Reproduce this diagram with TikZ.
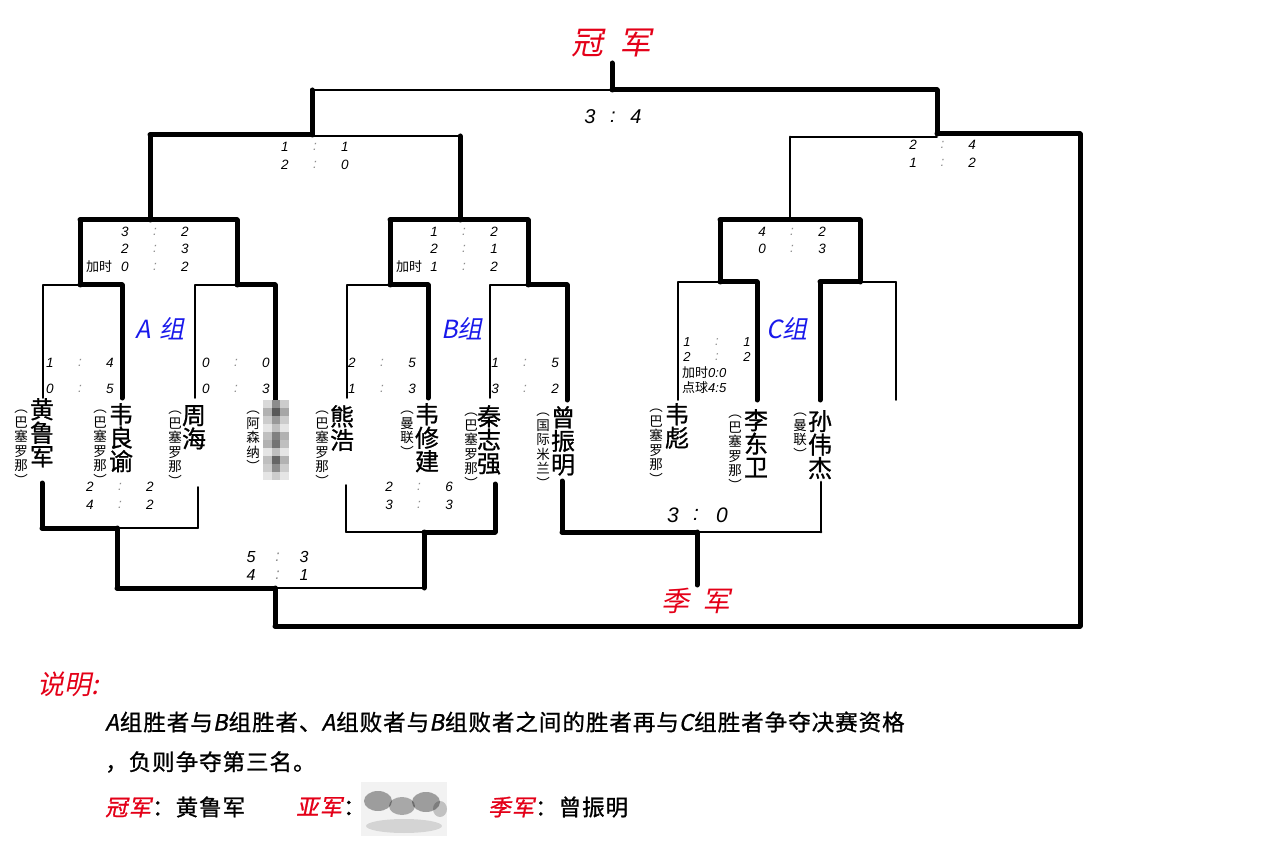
\documentclass[tikz,border=0pt]{standalone}
\usepackage{fontspec}
\setmainfont{Noto Sans CJK SC}[ItalicFont=Noto Sans CJK SC, ItalicFeatures={FakeSlant=0.2}]
\newfontfamily\arialf{Liberation Sans}
\newfontfamily\namef{Noto Sans CJK SC}[FakeBold=1.0]
\newfontfamily\legf{Noto Sans CJK SC}[LetterSpace=4.4, FakeBold=1.0, ItalicFont=Noto Sans CJK SC, ItalicFeatures={FakeSlant=0.2,LetterSpace=4.4,FakeBold=1.0}]
\definecolor{cred}{RGB}{228,0,24}
\definecolor{cblue}{RGB}{25,25,235}
\newcommand\srow[7]{%
  \node[sc,font=\fontsize{#6}{#6}\arialf\itshape] (#1a) at (#2,#3) {#4};
  \node[sc,font=\fontsize{#6}{#6}\arialf\itshape,text=black!45] (#1c) at ({#2+#7},#3) {:};
  \node[sc,font=\fontsize{#6}{#6}\arialf\itshape] (#1b) at ({#2+2*#7},#3) {#5};}
\begin{document}
\begin{tikzpicture}[x=1pt,y=-1pt,line cap=round,line join=round,
  thk/.style={line width=5pt}, thn/.style={line width=1.8pt}, mdl/.style={line width=2.8pt},
  sc/.style={inner sep=0pt},
  big/.style={font=\fontsize{24}{23.5}\namef,align=center,inner sep=0pt,anchor=north},
  aff/.style={font=\fontsize{13.5}{14.5}\selectfont,align=center,inner sep=0pt,anchor=north},
  grp/.style={font=\fontsize{25}{25}\selectfont\itshape,text=cblue,inner sep=0pt},
  ttl/.style={text=cred,inner sep=0pt}]
\fill[white] (0,0) rectangle (1275,850);
\useasboundingbox (0,0) rectangle (1275,850);

% ---- top / final
\draw[thk] (612,63) -- (612,90);
\draw[thn] (312,90) -- (612,90);
\draw[thk] (612,90) -- (937,90);
\draw[thk] (312,90) -- (312,135);
\draw[thk] (937,90) -- (937,134);
% ---- left semi
\draw[thk] (150,135) -- (312,135);
\draw[thn] (312,136) -- (460,136);
\draw[thk] (150,135) -- (150,220);
\draw[thk] (460,136) -- (460,220);
% ---- A group
\draw[thk] (80,220) -- (237,220);
\draw[thk] (80,220) -- (80,285);
\draw[thk] (237,220) -- (237,285);
\draw[thn] (43,285) -- (80,285);
\draw[thk] (80,285) -- (122,285);
\draw[thn] (195,285) -- (237,285);
\draw[thk] (237,285) -- (275,285);
\draw[thn] (43,285) -- (43,398);
\draw[thk] (122,285) -- (122,398);
\draw[thn] (195,285) -- (195,398);
\draw[thk] (275,285) -- (275,400);
% ---- B group
\draw[thk] (390,220) -- (528,220);
\draw[thk] (390,220) -- (390,285);
\draw[thk] (528,220) -- (528,285);
\draw[thn] (347,285) -- (390,285);
\draw[thk] (390,285) -- (428,285);
\draw[thn] (490,285) -- (528,285);
\draw[thk] (528,285) -- (567,285);
\draw[thn] (347,285) -- (347,398);
\draw[thk] (428,285) -- (428,398);
\draw[thn] (490,285) -- (490,398);
\draw[thk] (567,285) -- (567,400);
% ---- right semi and C group
\draw[thk] (937,134) -- (1080,134);
\draw[thn] (790,137) -- (937,137);
\draw[mdl] (790,137) -- (790,220);
\draw[thk] (720,220) -- (860,220);
\draw[thk] (720,220) -- (720,282);
\draw[thk] (860,220) -- (860,282);
\draw[thn] (678,282) -- (720,282);
\draw[thk] (720,282) -- (757,282);
\draw[thk] (820,282) -- (860,282);
\draw[thn] (860,282) -- (896,282);
\draw[thn] (678,282) -- (678,400);
\draw[thk] (757,282) -- (757,400);
\draw[thk] (820,282) -- (820,400);
\draw[thn] (896,282) -- (896,400);
\draw[thk] (1080,134) -- (1080,626);
% ---- losers bracket
\draw[thk] (42,483) -- (42,528);
\draw[thk] (42,528) -- (117,528);
\draw[thn] (117,528) -- (198,528);
\draw[thn] (198,487) -- (198,528);
\draw[thk] (117,528) -- (117,588);
\draw[thk] (117,588) -- (275,588);
\draw[thn] (275,588) -- (424,588);
\draw[thk] (424,532) -- (424,588);
\draw[thn] (346,532) -- (424,532);
\draw[thk] (424,532) -- (495,532);
\draw[thn] (346,485) -- (346,532);
\draw[thk] (495,484) -- (495,532);
\draw[thk] (275,588) -- (275,626);
\draw[thk] (275,626) -- (1080,626);
% ---- third place
\draw[thk] (562,481) -- (562,532);
\draw[thk] (562,532) -- (697,532);
\draw[mdl] (697,532) -- (821,532);
\draw[mdl] (821,482) -- (821,532);
\draw[thk] (697,532) -- (697,585);

% ---- titles
\node[ttl,font=\fontsize{32}{32}\selectfont\itshape] (champ) at (611,43) {冠\hspace{16pt}军};
\node[ttl,font=\fontsize{28}{28}\selectfont\itshape] (third) at (696,601) {季\hspace{13pt}军};
\node[grp] (ga) at (160,329) {A\hspace{8pt}组};
\node[grp] (gb) at (462,329) {B组};
\node[grp] (gc) at (787,329) {C组};

% ---- big scores
\node[sc,font=\fontsize{20}{20}\arialf\itshape] (f1) at (590,117) {3};
\node[sc,font=\fontsize{20}{20}\arialf\itshape] (f2) at (613,117) {:};
\node[sc,font=\fontsize{20}{20}\arialf\itshape] (f3) at (636,117) {4};
\node[sc,font=\fontsize{21}{21}\arialf\itshape] (t1) at (673,515) {3};
\node[sc,font=\fontsize{21}{21}\arialf\itshape] (t2) at (696,515) {:};
\node[sc,font=\fontsize{21}{21}\arialf\itshape] (t3) at (722,515) {0};

% ---- small scores
\srow{sa}{285}{147}{1}{1}{13.5}{30}
\srow{sb}{285}{165}{2}{0}{13.5}{30}
\srow{aa}{125}{232}{3}{2}{13.5}{30}
\srow{ab}{125}{249}{2}{3}{13.5}{30}
\srow{ac}{125}{267}{0}{2}{13.5}{30}
\node[sc,font=\fontsize{13}{13}\selectfont] (aot) at (99,267) {加时};
\srow{ba}{434}{232}{1}{2}{13.5}{30}
\srow{bb}{434}{249}{2}{1}{13.5}{30}
\srow{bc}{434}{267}{1}{2}{13.5}{30}
\node[sc,font=\fontsize{13}{13}\selectfont] (bot) at (409,267) {加时};
\srow{ra}{913}{145}{2}{4}{13.5}{29.5}
\srow{rb}{913}{163}{1}{2}{13.5}{29.5}
\srow{ca}{762}{232}{4}{2}{13.5}{30}
\srow{cb}{762}{249}{0}{3}{13.5}{30}
\srow{ara}{50}{363}{1}{4}{13.5}{30}
\srow{arb}{50}{389}{0}{5}{13.5}{30}
\srow{arc}{206}{363}{0}{0}{13.5}{30}
\srow{ard}{206}{389}{0}{3}{13.5}{30}
\srow{bra}{352}{363}{2}{5}{13.5}{30}
\srow{brb}{352}{389}{1}{3}{13.5}{30}
\srow{brc}{495}{363}{1}{5}{13.5}{30}
\srow{brd}{495}{389}{3}{2}{13.5}{30}
\srow{cra}{687}{342}{1}{1}{13}{30}
\srow{crb}{687}{357}{2}{2}{13}{30}
\node[sc,anchor=west,font=\fontsize{13}{13}\selectfont] (cot) at (682,373) {加时{\arialf\itshape 0:0}};
\node[sc,anchor=west,font=\fontsize{13}{13}\selectfont] (cpk) at (682,388) {点球{\arialf\itshape 4:5}};
\srow{laa}{90}{487}{2}{2}{13.5}{30}
\srow{lab}{90}{505}{4}{2}{13.5}{30}
\srow{lba}{389}{487}{2}{6}{13.5}{30}
\srow{lbb}{389}{505}{3}{3}{13.5}{30}
\srow{lfa}{251}{557}{5}{3}{16}{26.5}
\srow{lfb}{251}{575}{4}{1}{16}{26.5}

% ---- players
\node[big] (p1) at (42,398) {黄\\鲁\\军};
\node[aff] (c1) at (21,402) {︵\vphantom{巴}\\巴\\塞\\罗\\那\\︶};
\node[big] (p2) at (121,403) {韦\\良\\谕};
\node[aff] (c2) at (100,402) {︵\vphantom{巴}\\巴\\塞\\罗\\那\\︶};
\node[big] (p3) at (194,405) {周\\海};
\node[aff] (c3) at (175,403) {︵\vphantom{巴}\\巴\\塞\\罗\\那\\︶};
\node[aff] (c4) at (253,403) {︵\vphantom{巴}\\阿\\森\\纳\\︶};
\node[big] (p5) at (342,405) {熊\\浩};
\node[aff] (c5) at (322,403) {︵\vphantom{巴}\\巴\\塞\\罗\\那\\︶};
\node[big] (p6) at (427,403) {韦\\修\\建};
\node[aff] (c6) at (407,403) {︵\vphantom{巴}\\曼\\联\\︶};
\node[big] (p7) at (489,405) {秦\\志\\强};
\node[aff] (c7) at (471,405) {︵\vphantom{巴}\\巴\\塞\\罗\\那\\︶};
\node[big] (p8) at (563,406) {曾\\振\\明};
\node[aff] (c8) at (543,405) {︵\vphantom{巴}\\国\\际\\米\\兰\\︶};
\node[big] (p9) at (677,403) {韦\\彪};
\node[aff] (c9) at (656,401) {︵\vphantom{巴}\\巴\\塞\\罗\\那\\︶};
\node[big] (p10) at (756,409) {李\\东\\卫};
\node[aff] (c10) at (735,407) {︵\vphantom{巴}\\巴\\塞\\罗\\那\\︶};
\node[big] (p11) at (820,410) {孙\\伟\\杰};
\node[aff] (c11) at (800,405) {︵\vphantom{巴}\\曼\\联\\︶};

% ---- mosaic (hidden name)
\foreach \r/\a/\b/\c in {0/15/45/20,1/30/65/35,2/20/40/20,3/10/25/10,4/25/50/30,5/30/55/25,6/10/25/10,7/25/60/30,8/20/45/20,9/10/20/10}{
  \fill[black!\a] (263,{400+8*\r}) rectangle (271.5,{408+8*\r});
  \fill[black!\b] (271.5,{400+8*\r}) rectangle (280,{408+8*\r});
  \fill[black!\c] (280,{400+8*\r}) rectangle (288.5,{408+8*\r});
}

% ---- legend
\node[ttl,anchor=west,font=\fontsize{27}{27}\selectfont\itshape] (sm) at (37,684) {说明:};
\node[sc,anchor=west,font=\fontsize{22.5}{22.5}\legf] (l1) at (105,722) {\textit{A}组胜者与\textit{B}组胜者、\textit{A}组败者与\textit{B}组败者之间的胜者再与\textit{C}组胜者争夺决赛资格};
\node[sc,anchor=west,font=\fontsize{22.5}{22.5}\legf] (l2) at (105,762) {，负则争夺第三名。};
\node[sc,anchor=west,font=\fontsize{22.5}{22.5}\legf] (l3a) at (105,807) {\textcolor{cred}{\textit{冠军}}：黄鲁军};
\node[sc,anchor=west,font=\fontsize{22.5}{22.5}\legf] (l3b) at (296,807) {\textcolor{cred}{\textit{亚军}}：};
\node[sc,anchor=west,font=\fontsize{22.5}{22.5}\legf] (l3c) at (488,807) {\textcolor{cred}{\textit{季军}}：曾振明};
% blurred name
\fill[black!5] (361,782) rectangle (447,836);
\fill[black,opacity=0.35] (378,801) ellipse [x radius=14, y radius=10];
\fill[black,opacity=0.3] (402,806) ellipse [x radius=13, y radius=9];
\fill[black,opacity=0.35] (426,802) ellipse [x radius=14, y radius=10];
\fill[black,opacity=0.2] (440,809) ellipse [x radius=7, y radius=8];
\fill[black,opacity=0.12] (404,826) ellipse [x radius=38, y radius=7];
\end{tikzpicture}
\end{document}
